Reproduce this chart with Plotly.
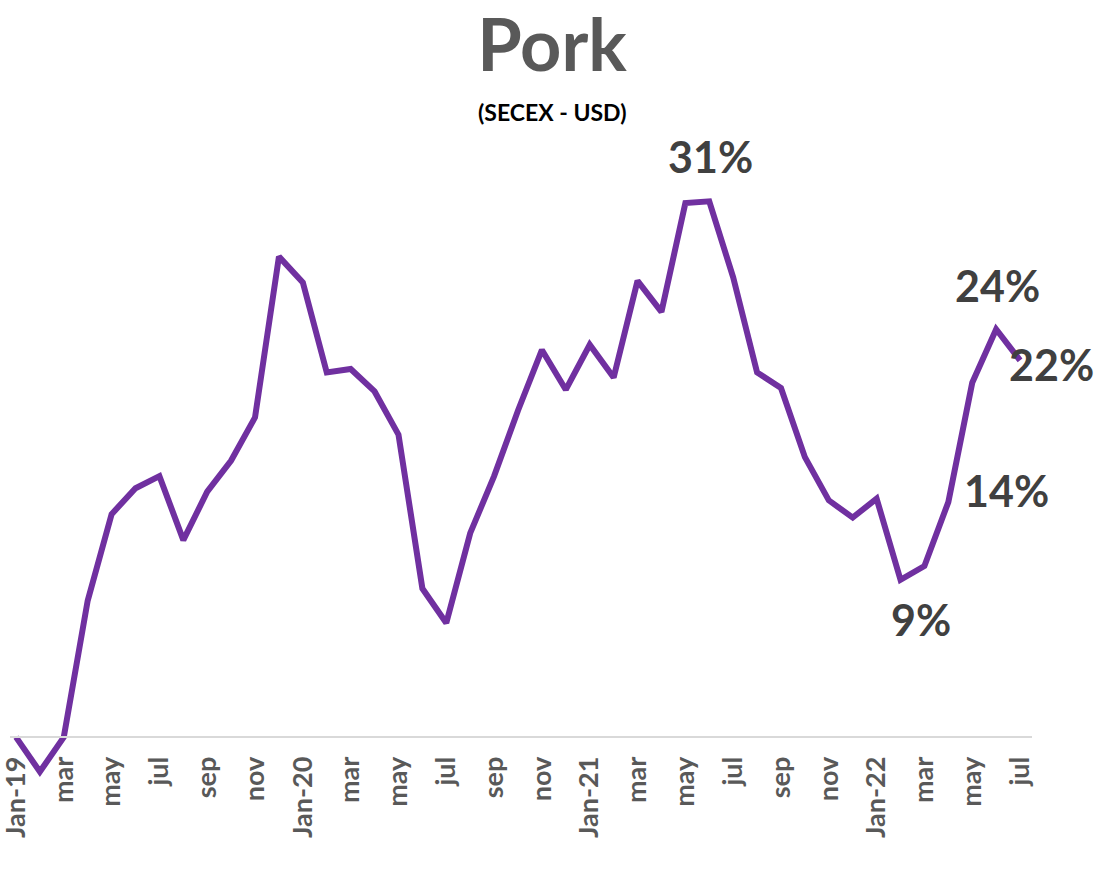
import plotly.graph_objects as go

months = [
    "Jan-19", "Feb-19", "Mar-19", "Apr-19", "May-19", "Jun-19", "Jul-19", "Aug-19", "Sep-19", "Oct-19", "Nov-19", "Dec-19",
    "Jan-20", "Feb-20", "Mar-20", "Apr-20", "May-20", "Jun-20", "Jul-20", "Aug-20", "Sep-20", "Oct-20", "Nov-20", "Dec-20",
    "Jan-21", "Feb-21", "Mar-21", "Apr-21", "May-21", "Jun-21", "Jul-21", "Aug-21", "Sep-21", "Oct-21", "Nov-21", "Dec-21",
    "Jan-22", "Feb-22", "Mar-22", "Apr-22", "May-22", "Jun-22", "Jul-22",
]
values = [
    0.0, -2.0, 0.0, 7.9, 12.9, 14.4, 15.1, 11.4, 14.2, 16.0, 18.5, 27.8,
    26.3, 21.1, 21.3, 20.0, 17.5, 8.6, 6.6, 11.8, 15.1, 18.9, 22.4, 20.1,
    22.7, 20.8, 26.4, 24.6, 30.9, 31.0, 26.6, 21.1, 20.2, 16.2, 13.7, 12.7,
    13.8, 9.1, 9.9, 13.6, 20.5, 23.6, 21.8,
]
tick_months = months[::2]
tick_labels = [
    "Jan-19", "mar", "may", "jul", "sep", "nov",
    "Jan-20", "mar", "may", "jul", "sep", "nov",
    "Jan-21", "mar", "may", "jul", "sep", "nov",
    "Jan-22", "mar", "may", "jul",
]
label_months = ["Jun-21", "Jun-22", "Jul-22", "Apr-22", "Feb-22"]

# label placement (pixel offsets from the point): style, not data
label_offsets = {
    "Jun-21": (1, 45),
    "Jun-22": (1, 44),
    "Jul-22": (31, -4),
    "Apr-22": (58, 12),
    "Feb-22": (20, -40),
}

FONT = "Lato"
W, H = 1114, 886
y_min, y_max = -3, 32
L, R, T, B = 10, 82, 184, 97
PW, PH = W - L - R, H - T - B

fig = go.Figure()
fig.add_trace(go.Scatter(
    x=months, y=values, mode="lines",
    line=dict(color="#7030A0", width=6),
    hoverinfo="skip", showlegend=False,
))

for m in label_months:
    v = values[months.index(m)]
    dx, dy = label_offsets[m]
    fig.add_annotation(
        x=m, y=v, xref="x", yref="y", text=f"{v:.0f}%", showarrow=False,
        xshift=dx, yshift=dy, xanchor="center", yanchor="middle",
        font=dict(family=FONT, size=43, color="#404040", weight="bold"),
    )

fig.add_annotation(
    x=(552 - L) / PW, y=(H - B - 112) / PH, xref="paper", yref="paper",
    text="(SECEX - USD)", showarrow=False, xanchor="center", yanchor="middle",
    font=dict(family=FONT, size=23, color="#000000", weight="bold"),
)

fig.update_layout(
    width=W, height=H,
    margin=dict(l=L, r=R, t=T, b=B, autoexpand=False),
    paper_bgcolor="white", plot_bgcolor="white",
    title=dict(
        text="<b>Pork</b>", x=552 / W, xref="container", xanchor="center",
        y=1 - 46 / H, yref="container", yanchor="middle",
        font=dict(family=FONT, size=72, color="#595959"),
    ),
    xaxis=dict(
        type="category", range=[-0.25, 42.5], automargin=False,
        tickmode="array", tickvals=tick_months, ticktext=tick_labels,
        tickangle=-90, ticks="", showgrid=False, zeroline=False,
        showline=True, linecolor="#D9D9D9", linewidth=1.5,
        anchor="free", position=(0 - y_min) / (y_max - y_min),
        ticklabelstandoff=8,
        tickfont=dict(family=FONT, size=27, color="#595959", weight="bold"),
    ),
    yaxis=dict(range=[y_min, y_max], visible=False, automargin=False),
)

fig.write_html(
    "out.html",
    config={"displayModeBar": False},
    post_script="document.body.style.margin='0';",
)
